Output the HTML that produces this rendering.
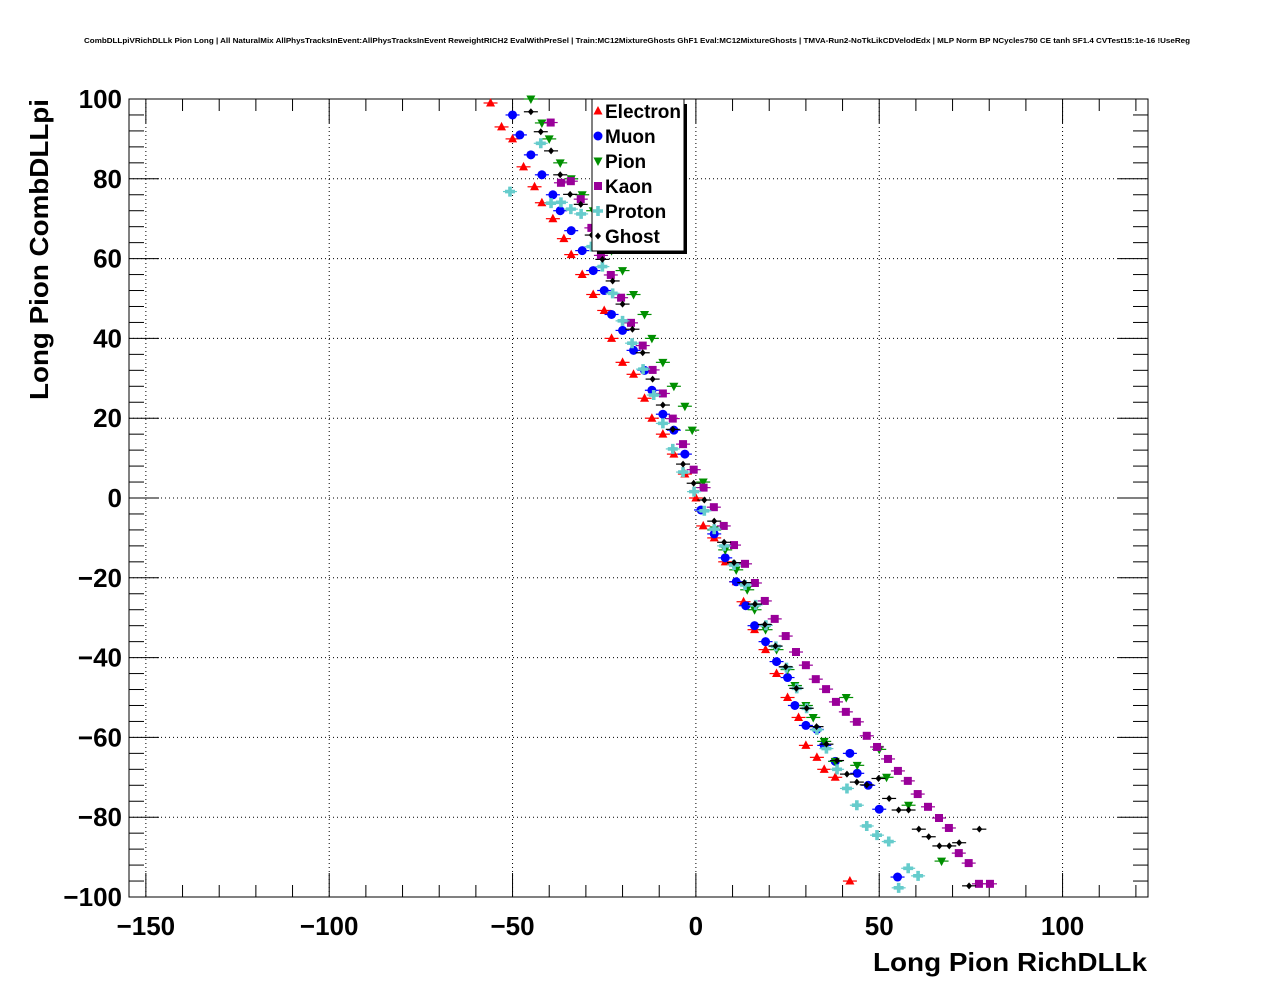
<!DOCTYPE html>
<html><head><meta charset="utf-8"><style>
body{margin:0;background:#fff}
svg{display:block;font-family:"Liberation Sans",Arial,sans-serif}
</style></head><body>
<svg id="chart" width="1276" height="996" viewBox="0 0 1276 996" xmlns="http://www.w3.org/2000/svg">
<rect width="1276" height="996" fill="#fff"/>
<text x="637" y="43" font-size="7.2" font-weight="bold" text-anchor="middle" textLength="1106" lengthAdjust="spacingAndGlyphs">CombDLLpiVRichDLLk Pion Long | All NaturalMix AllPhysTracksInEvent:AllPhysTracksInEvent ReweightRICH2 EvalWithPreSel | Train:MC12MixtureGhosts GhF1 Eval:MC12MixtureGhosts | TMVA-Run2-NoTkLikCDVelodEdx | MLP Norm BP NCycles750 CE tanh SF1.4 CVTest15:1e-16 !UseReg</text>
<g id="grid"></g><g id="axes"></g><g id="marks"></g><g id="legend"></g>
<text x="1147" y="971" font-size="26" font-weight="bold" text-anchor="end" textLength="274" lengthAdjust="spacingAndGlyphs">Long Pion RichDLLk</text>
<text transform="translate(48,99) rotate(-90)" font-size="26" font-weight="bold" text-anchor="end" textLength="301" lengthAdjust="spacingAndGlyphs">Long Pion CombDLLpi</text>
</svg>
<script>
const xTicks=[-150,-100,-50,0,50,100];
const yTicks=[-100,-80,-60,-40,-20,0,20,40,60,80,100];
const seriesNames=["Electron","Muon","Pion","Kaon","Proton","Ghost"];
const electronX=[-56,-53,-50,-47,-44,-42,-39,-36,-34,-31,-28,-25,-23,-20,-17,-14,-12,-9,-6,-3,0,2,5,8,11,13,16,19,22,25,28,30,33,35,38,42];
const electronY=[99,93,90,83,78,74,70,65,61,56,51,47,40,34,31,25,20,16,11,6,0,-7,-10,-16,-21,-26,-33,-38,-44,-50,-55,-62,-65,-68,-70,-96];
const muonX=[-50,-48,-45,-42,-39,-37,-34,-31,-28,-25,-23,-20,-17,-14,-12,-9,-6,-3,1.4,5,8,11,13.6,16,19,22,25,27,30,33,35,38,42,44,47,50,55];
const muonY=[96,91,86,81,76,72,67,62,57,52,46,42,37,32,27,21,17,11,-3,-9,-15,-21,-27,-32,-36,-41,-45,-52,-57,-58,-62,-66,-64,-69,-72,-78,-95];
const pionX=[-45,-42,-40,-37,-34,-31,-28,-25,-23,-20,-17,-14,-12,-9,-6,-3,-1,2,5,8,11,14,16,19,22,25,27,30,32,35,38,41,44,50,52,58,67];
const pionY=[100,94,90,84,80,76,72,68,62,57,51,46,40,34,28,23,17,4,-8,-13,-18,-23,-28,-33,-38,-43,-47,-52,-55,-61,-66,-50,-67,-63,-70,-77,-91];
const kaonX=[-39.6,-36.8,-34.1,-31.4,-28.5,-25.9,-23.2,-20.4,-17.7,-14.5,-11.8,-9.0,-6.3,-3.5,-0.6,2.1,4.9,7.6,10.4,13.4,16.1,18.8,21.5,24.5,27.3,30.0,32.7,35.5,38.2,40.9,43.9,46.6,49.4,52.4,55.1,57.8,60.5,63.3,66.3,69.0,71.7,74.4,77.2,80.2];
const kaonY=[94.1,79.0,79.4,74.9,67.7,60.8,55.9,50.2,43.9,38.2,32.1,26.2,19.9,13.5,7.1,2.6,-2.3,-7,-11.8,-16.5,-21.3,-25.8,-30.3,-34.6,-38.6,-41.9,-45.4,-47.9,-51.1,-53.6,-56.1,-59.6,-62.4,-65.4,-68.4,-70.9,-74.2,-77.4,-80.2,-82.7,-89,-91.5,-96.7,-96.7];
const protonX=[-50.7,-42.3,-39.5,-36.8,-34.1,-31.3,-28.5,-25.5,-22.7,-20.0,-17.4,-14.4,-11.5,-9.0,-6.3,-3.5,-0.5,2.3,5.0,7.7,10.4,13.4,16.3,19.1,21.8,24.7,27.5,30.2,33.0,35.6,38.5,41.2,43.9,46.6,49.4,52.6,55.3,57.9,60.6];
const protonY=[76.8,88.9,73.9,74.1,72.4,71.2,63.0,58.0,51.3,44.4,38.8,32.3,25.8,18.7,12.3,6.5,1.6,-3.2,-7.8,-12,-16.8,-21.8,-26.8,-31.9,-37.2,-42.5,-47.7,-52.7,-58.1,-62.8,-68,-72.8,-77,-82.2,-84.5,-86.1,-97.7,-92.8,-94.7];
const ghostX=[-45,-42.3,-39.5,-37,-34.3,-31.4,-28.4,-25.5,-22.7,-20,-17.3,-14.5,-11.8,-9.0,-6.3,-3.5,-0.6,2.3,5.0,7.7,10.4,13.2,16.1,18.8,21.7,24.5,27.4,30.2,32.9,35.6,38.5,41.2,43.9,46.6,49.8,52.7,55.3,58.0,60.8,63.5,66.4,69.1,71.8,74.5,77.3];
const ghostY=[96.8,91.8,87,81,76.1,73.6,65.9,59.8,54.4,48.6,42.3,36.4,29.8,23.3,17.2,8.5,3.7,-0.5,-5.8,-11.1,-16.2,-21.2,-26.6,-31.7,-37.1,-42.3,-47.7,-52.7,-57.3,-61.7,-65.8,-69.2,-71.2,-71.9,-70.3,-75.3,-78.2,-78.2,-83.0,-84.9,-87.2,-87.2,-86.4,-97.2,-83];

const L=129,R=1148,T=99,B=897;
const X0=-154.6,X1=123.3,Y0=-100,Y1=100;
const sx=v=>L+(v-X0)/(X1-X0)*(R-L);
const sy=v=>B-(v-Y0)/(Y1-Y0)*(B-T);
const NS="http://www.w3.org/2000/svg";
function mk(tag,attrs,parent){const e=document.createElementNS(NS,tag);for(const k in attrs)e.setAttribute(k,attrs[k]);parent.appendChild(e);return e;}
const grid=document.getElementById('grid'),axes=document.getElementById('axes'),marks=document.getElementById('marks'),leg=document.getElementById('legend');

xTicks.forEach(t=>{const x=sx(t);
 const g=mk('line',{x1:x,x2:x,y1:T,y2:B,stroke:'#000','stroke-width':1,'stroke-dasharray':'1,3'},grid);
 
 
 const tx=mk('text',{x:x,y:935,'font-size':26,'font-weight':'bold','text-anchor':'middle'},axes);
 tx.textContent=(t<0?'\u2212'+(-t):t);
 
 
 mk('line',{x1:x,x2:x,y1:B,y2:B-24,stroke:'#000','stroke-width':1},axes);
 mk('line',{x1:x,x2:x,y1:T,y2:T+24,stroke:'#000','stroke-width':1},axes);
});
for(let v=-150;v<=120;v+=10){if(v%50===0)continue;const x=sx(v);
 mk('line',{x1:x,x2:x,y1:B,y2:B-12,stroke:'#000'},axes);mk('line',{x1:x,x2:x,y1:T,y2:T+12,stroke:'#000'},axes);}
yTicks.forEach(t=>{const y=sy(t);
 if(t>-100&&t<100){const g=mk('line',{x1:L,x2:R,y1:y,y2:y,stroke:'#000','stroke-width':1,'stroke-dasharray':'1,3'},grid);
 
 }
 const tx=mk('text',{x:122,y:y+9,'font-size':26,'font-weight':'bold','text-anchor':'end'},axes);
 tx.textContent=(t<0?'\u2212'+(-t):t);
 
 
 mk('line',{x1:L,x2:L+30,y1:y,y2:y,stroke:'#000'},axes);mk('line',{x1:R,x2:R-30,y1:y,y2:y,stroke:'#000'},axes);
});
for(let v=-100;v<=100;v+=4){if(v%20===0)continue;const y=sy(v);
 mk('line',{x1:L,x2:L+15,y1:y,y2:y,stroke:'#000'},axes);mk('line',{x1:R,x2:R-15,y1:y,y2:y,stroke:'#000'},axes);}
const frame=mk('rect',{x:L,y:T,width:R-L,height:B-T,fill:'none',stroke:'#000','stroke-width':1},axes);



const colors=['#ff0000','#0000ff','#008f00','#990099','#66cccc','#000000'];
function marker(kind,x,y,c,parent){
 if(kind===0) return mk('polygon',{points:`${x},${y-5} ${x-4.5},${y+3.5} ${x+4.5},${y+3.5}`,fill:c},parent);
 if(kind===1) return mk('circle',{cx:x,cy:y,r:4.5,fill:c},parent);
 if(kind===2) return mk('polygon',{points:`${x},${y+5} ${x-4.5},${y-3.5} ${x+4.5},${y-3.5}`,fill:c},parent);
 if(kind===3) return mk('rect',{x:x-4,y:y-4,width:8,height:8,fill:c},parent);
 if(kind===4) return mk('path',{d:`M${x-1.8} ${y-5}h3.6v3.2h3.2v3.6h-3.2v3.2h-3.6v-3.2h-3.2v-3.6h3.2z`,fill:c},parent);
 return mk('polygon',{points:`${x},${y-3.5} ${x+3},${y} ${x},${y+3.5} ${x-3},${y}`,fill:c},parent);
}
const allX=[electronX,muonX,pionX,kaonX,protonX,ghostX],allY=[electronY,muonY,pionY,kaonY,protonY,ghostY];
allX.forEach((xs,s)=>{
 xs.forEach((xv,i)=>{const yv=allY[s][i];if(yv>100||yv<-100)return;
  const x=sx(xv),y=sy(yv),c=colors[s];
  const g=mk('g',{},marks);
  
  
  mk('line',{x1:x-7,x2:x+7,y1:y,y2:y,stroke:c,'stroke-width':1.2},g);
  marker(s,x,y,c,g);
 });
});

mk('rect',{x:597,y:104,width:90,height:150,fill:'#000'},leg);
const box=mk('rect',{x:592,y:99,width:92,height:152,fill:'#fff',stroke:'#000','stroke-width':1},leg);


seriesNames.forEach((n,i)=>{const y=111+i*25;
 const g=mk('g',{},leg);
 
 
 marker(i,598,y,colors[i],g);
 const t=mk('text',{x:605,y:y+7,'font-size':19,'font-weight':'bold'},g);t.textContent=n;
});
</script>
</body></html>
